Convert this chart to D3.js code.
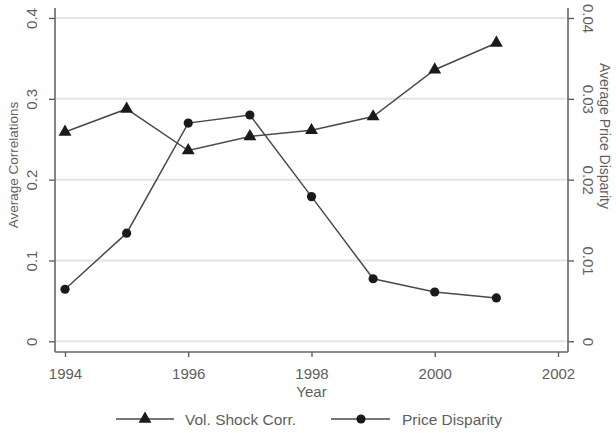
<!DOCTYPE html>
<html><head><meta charset="utf-8">
<script src="https://cdn.jsdelivr.net/npm/d3@7"></script>
<style>body{margin:0;background:#fff}text{font-family:"Liberation Sans",Arial,sans-serif;fill:#5e5e5e}</style>
</head><body><svg id="c" width="616" height="433"></svg>
<script>
const years = [1994,1995,1996,1997,1998,1999,2000,2001];
const volShockCorr = [0.259,0.2875,0.236,0.2535,0.261,0.278,0.336,0.369];
const priceDisparity = [0.00644,0.01338,0.0270,0.0280,0.0179,0.00774,0.0061,0.00537];
const xTicks = [1994,1996,1998,2000,2002];
const leftTicks = [0,0.1,0.2,0.3,0.4];
const rightTicks = [0,0.01,0.02,0.03,0.04];
const leftLabels = ["0","0.1","0.2","0.3","0.4"];
const rightLabels = ["0","0.01","0.02","0.03","0.04"];

const svg = d3.select("#c");
const L=55, R=568, T=8, B=352;
const x = d3.scaleLinear().domain([1994,2002]).range([65,558]);
const yL = d3.scaleLinear().domain([0,0.4]).range([341.3,18]);
const yR = d3.scaleLinear().domain([0,0.04]).range([341.3,18]);

// gridlines
svg.append("g").selectAll("line").data(leftTicks).join("line")
  .attr("x1",L).attr("x2",R).attr("y1",d=>yL(d)).attr("y2",d=>yL(d))
  .attr("stroke","#e3e3e3").attr("stroke-width",2);

// axes
const axL = svg.append("g").attr("transform",`translate(${L},0)`)
  .call(d3.axisLeft(yL).tickValues(leftTicks).tickSize(6).tickFormat((d,i)=>leftLabels[i]));
const axR = svg.append("g").attr("transform",`translate(${R},0)`)
  .call(d3.axisRight(yR).tickValues(rightTicks).tickSize(6).tickFormat((d,i)=>rightLabels[i]));
const axB = svg.append("g").attr("transform",`translate(0,${B})`)
  .call(d3.axisBottom(x).tickValues(xTicks).tickSize(5).tickFormat(d3.format("d")));
[axL,axR,axB].forEach(g=>{
  g.select(".domain").remove();
  g.selectAll(".tick line").attr("stroke","#555").attr("stroke-width",1.3);
  g.selectAll(".tick text").style("font-size","15px").attr("fill","#5e5e5e");
});
axL.selectAll(".tick text").attr("x",null).attr("dy",null)
  .attr("text-anchor","middle").attr("dominant-baseline","central")
  .attr("transform","translate(-24,0) rotate(-90)");
axR.selectAll(".tick text").attr("x",null).attr("dy",null)
  .attr("text-anchor","middle").attr("dominant-baseline","central")
  .attr("transform","translate(20,0) rotate(90)");
axB.selectAll(".tick text").attr("y",null).attr("dy",null)
  .attr("dominant-baseline","central").attr("transform","translate(0,21)");

// axis lines
svg.append("line").attr("x1",L).attr("x2",L).attr("y1",T).attr("y2",B).attr("stroke","#666").attr("stroke-width",1.6);
svg.append("line").attr("x1",R).attr("x2",R).attr("y1",T).attr("y2",B).attr("stroke","#666").attr("stroke-width",1.6);
svg.append("line").attr("x1",L).attr("x2",R).attr("y1",B).attr("y2",B).attr("stroke","#666").attr("stroke-width",1.6);

// titles
svg.append("text").attr("transform","translate(13,165) rotate(-90)").attr("text-anchor","middle")
  .attr("dominant-baseline","central").style("font-size","13.5px").text("Average Correlations");
svg.append("text").attr("transform","translate(605,136) rotate(90)").attr("text-anchor","middle")
  .attr("dominant-baseline","central").style("font-size","14px").text("Average Price Disparity");
svg.append("text").attr("x",(L+R)/2).attr("y",391).attr("text-anchor","middle")
  .attr("dominant-baseline","central").style("font-size","15px").text("Year");

const tri = d3.symbol().type(d3.symbolTriangle).size(72);
const lineStyle = g=>g.attr("fill","none").attr("stroke","#4a4a4a").attr("stroke-width",1.5);

// series 1
const d1 = years.map((y,i)=>[x(y),yL(volShockCorr[i])]);
svg.append("path").attr("d",d3.line()(d1)).call(lineStyle);
svg.append("g").selectAll("path").data(d1).join("path")
  .attr("transform",d=>`translate(${d[0]},${d[1]})`).attr("d",tri).attr("fill","#1a1a1a");
// series 2
const d2 = years.map((y,i)=>[x(y),yR(priceDisparity[i])]);
svg.append("path").attr("d",d3.line()(d2)).call(lineStyle);
svg.append("g").selectAll("circle").data(d2).join("circle")
  .attr("cx",d=>d[0]).attr("cy",d=>d[1]).attr("r",4.6).attr("fill","#1a1a1a");

// legend
const ly=419;
svg.append("line").attr("x1",116).attr("x2",174).attr("y1",ly).attr("y2",ly).call(lineStyle);
svg.append("path").attr("transform",`translate(145,${ly})`).attr("d",tri).attr("fill","#1a1a1a");
svg.append("text").attr("x",185).attr("y",ly).attr("dominant-baseline","central").style("font-size","15.5px").text("Vol. Shock Corr.");
svg.append("line").attr("x1",331).attr("x2",390).attr("y1",ly).attr("y2",ly).call(lineStyle);
svg.append("circle").attr("cx",361).attr("cy",ly).attr("r",4.6).attr("fill","#1a1a1a");
svg.append("text").attr("x",402).attr("y",ly).attr("dominant-baseline","central").style("font-size","15.5px").text("Price Disparity");
</script></body></html>
